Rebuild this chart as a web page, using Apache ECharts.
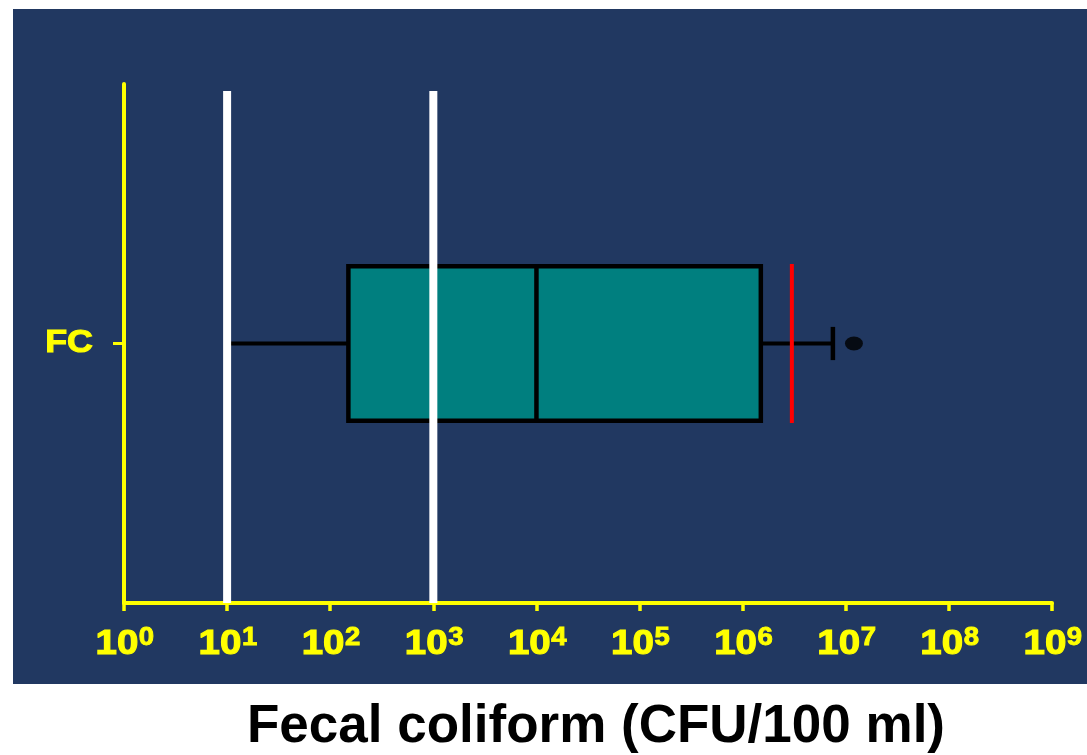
<!DOCTYPE html>
<html>
<head>
<meta charset="utf-8">
<script src="https://cdn.jsdelivr.net/npm/echarts@6/dist/echarts.min.js"></script>
<style>
  html, body { margin: 0; padding: 0; background: #ffffff; }
  #wrap { position: relative; width: 1087px; height: 755px; }
  #panel { position: absolute; left: 13px; top: 9px; width: 1074px; height: 675px; background: #213861; }
  #chart { position: absolute; left: 0; top: 0; width: 1087px; height: 755px; }
</style>
</head>
<body>
<div id="wrap">
  <div id="panel"></div>
  <div id="chart"></div>
</div>
<script>
// Fecal coliform counts (CFU/100 ml), log scale
const categories = ['FC'];
const whiskerLow = [10];
const quartile1 = [150];
const medians = [1e4];
const quartile3 = [1.5e6];
const whiskerHigh = [7.5e6];
const outliers = [[1.2e7, 'FC']];
const guideLines = [10, 1000];      // white guide values
const limitLines = [3e6];           // red limit value
const tickExponents = ['0', '1', '2', '3', '4', '5', '6', '7', '8', '9'];
const axisMin = 1, axisMax = 1e9;
const axisTitle = 'Fecal coliform (CFU/100 ml)';

const YELLOW = '#ffff00';
const FONT = '"Liberation Sans", Arial, sans-serif';

const boxData = categories.map((c, i) =>
  [i, whiskerLow[i], quartile1[i], medians[i], quartile3[i], whiskerHigh[i]]);

function renderBox(params, api) {
  const ci = api.value(0);
  const lo = api.coord([api.value(1), ci]);
  const q1 = api.coord([api.value(2), ci]);
  const md = api.coord([api.value(3), ci]);
  const q3 = api.coord([api.value(4), ci]);
  const hi = api.coord([api.value(5), ci]);
  const band = api.size([0, 1])[1];
  const half = band * 0.149;
  const capHalf = band * 0.032;
  const cy = q1[1];
  const black = { stroke: '#000000', lineWidth: 4 };
  return {
    type: 'group',
    children: [
      { type: 'line', shape: { x1: lo[0], y1: cy, x2: q1[0], y2: cy }, style: black },
      { type: 'line', shape: { x1: q3[0], y1: cy, x2: hi[0], y2: cy }, style: black },
      { type: 'line', shape: { x1: lo[0], y1: cy - capHalf, x2: lo[0], y2: cy + capHalf }, style: { stroke: '#000', lineWidth: 4.5 } },
      { type: 'line', shape: { x1: hi[0], y1: cy - capHalf, x2: hi[0], y2: cy + capHalf }, style: { stroke: '#000', lineWidth: 4.5 } },
      { type: 'rect', shape: { x: q1[0], y: cy - half, width: q3[0] - q1[0], height: half * 2 },
        style: { fill: '#007f7f', stroke: '#000000', lineWidth: 4.5 } },
      { type: 'line', shape: { x1: md[0], y1: cy - half, x2: md[0], y2: cy + half }, style: { stroke: '#000', lineWidth: 4.5 } }
    ]
  };
}

function renderGuide(params, api) {
  const cs = params.coordSys;
  const p = api.coord([api.value(0), 0]);
  return {
    type: 'rect',
    shape: { x: p[0] - 4, y: cs.y + 7, width: 8, height: cs.height - 7 },
    style: { fill: '#ffffff' }
  };
}

function renderLimit(params, api) {
  const p = api.coord([api.value(0), 0]);
  const half = api.size([0, 1])[1] * 0.153;
  return {
    type: 'line',
    shape: { x1: p[0], y1: p[1] - half, x2: p[0], y2: p[1] + half },
    style: { stroke: '#ff0000', lineWidth: 4 }
  };
}

const chart = echarts.init(document.getElementById('chart'), null, { renderer: 'canvas' });

chart.setOption({
  backgroundColor: 'transparent',
  animation: false,
  textStyle: { fontFamily: FONT },
  grid: { left: 124, right: 35, top: 84, bottom: 152, containLabel: false },
  xAxis: {
    type: 'log',
    logBase: 10,
    min: axisMin,
    max: axisMax,
    splitLine: { show: false },
    axisLine: { show: true, lineStyle: { color: YELLOW, width: 4, cap: 'round' } },
    axisTick: { show: true, length: 8, lineStyle: { color: YELLOW, width: 3.5 } },
    axisLabel: { show: false }
  },
  yAxis: {
    type: 'category',
    data: categories,
    axisLine: { show: true, lineStyle: { color: YELLOW, width: 4, cap: 'round' } },
    axisTick: { show: true, alignWithLabel: true, length: 11, lineStyle: { color: YELLOW, width: 3 } },
    axisLabel: { show: false },
    splitLine: { show: false }
  },
  series: [
    {
      type: 'custom',
      name: 'box',
      renderItem: renderBox,
      data: boxData,
      encode: { x: [1, 2, 3, 4, 5], y: 0 },
      clip: false,
      z: 2
    },
    {
      type: 'scatter',
      name: 'outlier',
      data: outliers,
      symbol: 'circle',
      symbolSize: [18, 14],
      itemStyle: { color: '#000000' },
      z: 3
    },
    {
      type: 'custom',
      name: 'guide',
      renderItem: renderGuide,
      data: guideLines.map(v => [v, 0]),
      encode: { x: 0, y: 1 },
      clip: false,
      z: 4
    },
    {
      type: 'custom',
      name: 'limit',
      renderItem: renderLimit,
      data: limitLines.map(v => [v, 0]),
      encode: { x: 0, y: 1 },
      clip: false,
      z: 5
    }
  ]
});

// Heavy, wide tick labels (10 with superscript exponent) placed on the axis ticks
const labelGraphics = tickExponents.map(function (e) {
  const x = chart.convertToPixel({ xAxisIndex: 0 }, Math.pow(10, Number(e)));
  return {
    type: 'group',
    x: x,
    y: 644,
    scaleX: 1.1,
    children: [
      { type: 'text', x: 13, y: 0,
        style: { text: '10', font: 'bold 35px ' + FONT, fill: YELLOW, stroke: YELLOW, lineWidth: 1.1,
                 align: 'right', verticalAlign: 'middle' } },
      { type: 'text', x: 13.5, y: -6,
        style: { text: e, font: 'bold 25px ' + FONT, fill: YELLOW, stroke: YELLOW, lineWidth: 0.9,
                 align: 'left', verticalAlign: 'middle' } }
    ]
  };
});

const categoryLabels = categories.map(function (c) {
  const y = chart.convertToPixel({ yAxisIndex: 0 }, c);
  return {
    type: 'text',
    x: 93,
    y: y,
    scaleX: 1.12,
    style: { text: c, font: 'bold 32px ' + FONT, fill: YELLOW, stroke: YELLOW, lineWidth: 1.1,
             align: 'right', verticalAlign: 'middle' }
  };
});

chart.setOption({
  graphic: [{
    type: 'text',
    x: 596,
    y: 727,
    style: {
      text: axisTitle,
      font: 'bold 53px ' + FONT,
      fill: '#000000',
      align: 'center',
      verticalAlign: 'middle'
    }
  }].concat(labelGraphics, categoryLabels)
});
</script>
</body>
</html>
